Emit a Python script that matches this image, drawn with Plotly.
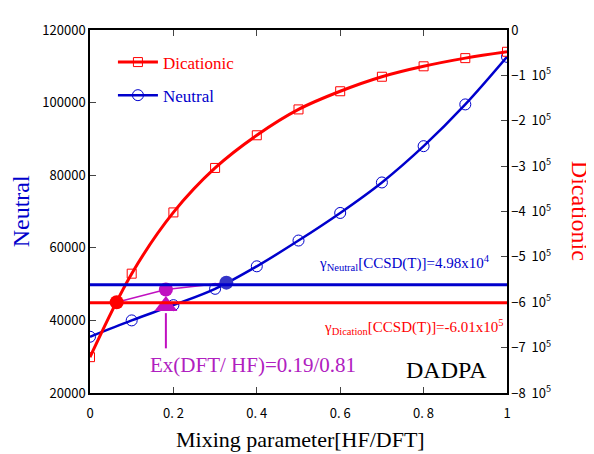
import plotly.graph_objects as go

# ---- data ----
mix = [0.0, 0.1, 0.2, 0.3, 0.4, 0.5, 0.6, 0.7, 0.8, 0.9, 1.0]
neutral = [35500, 40000, 44200, 48700, 54900, 62000, 69600, 78000, 88000, 99500, 112600]
dicationic = [-721000, -537000, -402000, -304000, -232000, -175000, -135000, -103000, -80000, -62000, -48000]

gamma_neutral_ccsdt = 49800        # left axis
gamma_dication_ccsdt = -601000     # right axis

# crossing points (left-axis units)
cross_x = [0.064, 0.182, 0.327]
cross_y = [45000, 48500, 50400]
cross_colors = ["#ff0000", "#c010c0", "#3535c8"]

opt_x = 0.182
opt_marker_y = 44000
arrow_y = [42000, 32300]

x_tickvals = [0, 0.2, 0.4, 0.6, 0.8, 1.0]
x_ticktext = ["0", "0. 2", "0. 4", "0. 6", "0. 8", "1"]
y_tickvals = [20000, 40000, 60000, 80000, 100000, 120000]
y_ticktext = ["20000", "40000", "60000", "80000", "100000", "120000"]
y2_tickvals = [0, -100000, -200000, -300000, -400000, -500000, -600000, -700000, -800000]
y2_ticktext = ["0"] + ["\u2212%d  10<sup>5</sup>" % k for k in range(1, 9)]

RED = "#ff0000"
BLUE = "#0000cc"
MAG = "#c010c0"
SERIF = "Liberation Serif, Times New Roman, serif"
TICKF = dict(family="Noto Sans CJK JP, DejaVu Sans, sans-serif", size=13, color="black")

fig = go.Figure()

fig.add_trace(go.Scatter(
    x=mix, y=dicationic, yaxis="y2", name="<span style='color:#ff0000'>Dicationic</span>",
    mode="lines+markers", line=dict(color=RED, width=3, shape="spline"),
    marker=dict(symbol="square-open", size=9, color=RED, line=dict(width=1)),
    legendgroup="a"))
fig.add_trace(go.Scatter(
    x=mix, y=neutral, name="<span style='color:#0000cc'>Neutral</span>",
    mode="lines+markers", line=dict(color=BLUE, width=2.5, shape="spline"),
    marker=dict(symbol="circle-open", size=11, color=BLUE, line=dict(width=1)),
    legendgroup="b"))

# magenta connecting line
fig.add_trace(go.Scatter(x=cross_x, y=cross_y, mode="lines",
                         line=dict(color=MAG, width=1.5), showlegend=False))
# arrow stem
fig.add_trace(go.Scatter(x=[opt_x, opt_x], y=arrow_y, mode="lines",
                         line=dict(color=MAG, width=2), showlegend=False))
fig.add_trace(go.Scatter(x=[opt_x], y=[opt_marker_y], mode="markers",
                         marker=dict(symbol="triangle-up", size=20, color=MAG),
                         showlegend=False))
fig.add_trace(go.Scatter(x=cross_x, y=cross_y, mode="markers",
                         marker=dict(symbol="circle", size=14, color=cross_colors),
                         showlegend=False))

# reference lines
fig.add_shape(type="line", xref="x domain", yref="y", x0=0, x1=1,
              y0=gamma_neutral_ccsdt, y1=gamma_neutral_ccsdt,
              line=dict(color=BLUE, width=3))
fig.add_shape(type="line", xref="x domain", yref="y2", x0=0, x1=1,
              y0=gamma_dication_ccsdt, y1=gamma_dication_ccsdt,
              line=dict(color=RED, width=3))

def A(text, x, y, size, color, angle=0):
    return dict(text=text, x=x, y=y, xref="paper", yref="paper", showarrow=False,
                xanchor="center", yanchor="middle", textangle=angle,
                font=dict(family=SERIF, size=size, color=color))

ann = [
    A("\u03b3<sub>Neutral</sub>[CCSD(T)]=4.98x10<sup>4</sup>", 0.754, 0.357, 15, BLUE),
    A("\u03b3<sub>Dication</sub>[CCSD(T)]=-6.01x10<sup>5</sup>", 0.778, 0.181, 15, RED),
    A("Ex(DFT/ HF)=0.19/0.81", 0.391, 0.077, 21, "#b020c0"),
    A("DADPA", 0.854, 0.063, 24, "black"),
    A("Neutral", -0.166, 0.50, 24, BLUE, -90),
    A("Dicationic", 1.174, 0.503, 24, RED, 90),
    A("Mixing parameter[HF/DFT]", 0.504, -0.128, 22, "black"),
]

fig.update_layout(
    width=594, height=454, autosize=False,
    margin=dict(l=82, r=95, t=15, b=69),
    paper_bgcolor="white", plot_bgcolor="white",
    showlegend=True,
    legend=dict(x=0.055, y=0.96, xanchor="left", yanchor="top", bgcolor="rgba(0,0,0,0)",
                font=dict(family=SERIF, size=17), tracegroupgap=8, itemwidth=40),
    annotations=ann,
    xaxis=dict(range=[0, 1], tickvals=x_tickvals, ticktext=x_ticktext, ticks="inside",
               ticklen=6, tickwidth=1.2, showline=True, linecolor="black", linewidth=1.5,
               mirror="ticks", showgrid=False, zeroline=False, tickfont=TICKF,
               ticklabelstandoff=8),
    yaxis=dict(range=[20000, 120000], tickvals=y_tickvals, ticktext=y_ticktext,
               ticks="inside", ticklen=6,
               tickwidth=1.2, showline=True, linecolor="black", linewidth=1.5,
               showgrid=False, zeroline=False, tickfont=TICKF),
    yaxis2=dict(range=[-800000, 0], overlaying="y", side="right", tickvals=y2_tickvals,
                ticktext=y2_ticktext, ticks="inside", ticklen=6, tickwidth=1.2,
                showline=True, linecolor="black", linewidth=1.5, showgrid=False,
                zeroline=False, tickfont=TICKF),
)

fig.write_html("out.html")
